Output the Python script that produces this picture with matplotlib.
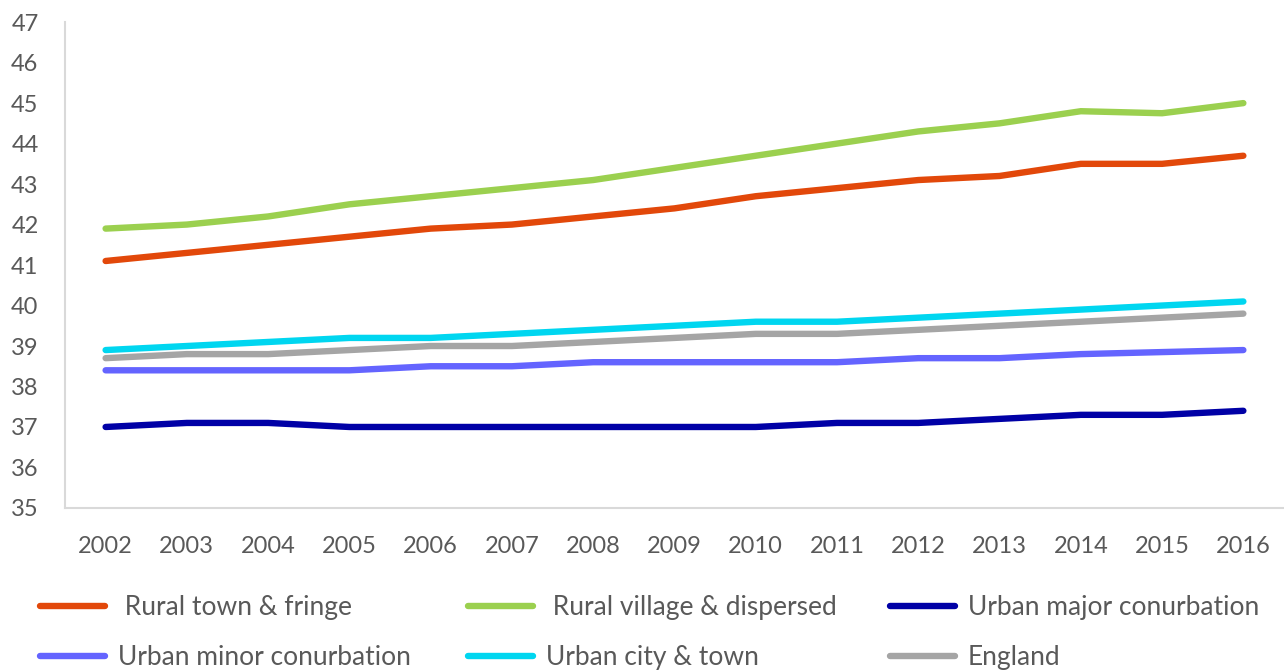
import matplotlib.pyplot as plt
from matplotlib.lines import Line2D

# Data
years = [str(y) for y in range(2002, 2017)]
rural_town = [41.1, 41.3, 41.5, 41.7, 41.9, 42.0, 42.2, 42.4, 42.7, 42.9, 43.1, 43.2, 43.5, 43.5, 43.7]
rural_village = [41.9, 42.0, 42.2, 42.5, 42.7, 42.9, 43.1, 43.4, 43.7, 44.0, 44.3, 44.5, 44.8, 44.75, 45.0]
urban_major = [37.0, 37.1, 37.1, 37.0, 37.0, 37.0, 37.0, 37.0, 37.0, 37.1, 37.1, 37.2, 37.3, 37.3, 37.4]
urban_minor = [38.4, 38.4, 38.4, 38.4, 38.5, 38.5, 38.6, 38.6, 38.6, 38.6, 38.7, 38.7, 38.8, 38.85, 38.9]
urban_city = [38.9, 39.0, 39.1, 39.2, 39.2, 39.3, 39.4, 39.5, 39.6, 39.6, 39.7, 39.8, 39.9, 40.0, 40.1]
england = [38.7, 38.8, 38.8, 38.9, 39.0, 39.0, 39.1, 39.2, 39.3, 39.3, 39.4, 39.5, 39.6, 39.7, 39.8]

series = [
    (' Rural town & fringe', rural_town, '#E2480A'),
    (' Rural village & dispersed', rural_village, '#9BD04F'),
    ('Urban major conurbation', urban_major, '#0000A6'),
    ('Urban minor conurbation', urban_minor, '#6464FF'),
    ('Urban city & town', urban_city, '#00D6F0'),
    ('England', england, '#A5A5A5'),
]

plt.rcParams['font.family'] = ['Lato', 'DejaVu Sans']
text_color = '#595959'

fig = plt.figure(figsize=(12.84, 6.71), dpi=100)
ax = fig.add_axes([0.0506, 0.243, 0.9494, 0.724])

x = range(len(years))
for label, vals, col in series:
    ax.plot(x, vals, color=col, lw=4.6, solid_capstyle='round', solid_joinstyle='round')

ax.set_xlim(-0.5, len(years) - 0.5)
ax.set_ylim(35, 47)
ax.set_yticks(range(35, 48))
ax.set_xticks(list(x))
ax.set_xticklabels(years)
ax.tick_params(axis='y', length=0, pad=19, labelsize=17, labelcolor=text_color)
ax.tick_params(axis='x', length=0, pad=20, labelsize=17, labelcolor=text_color)
for s in ['top', 'right']:
    ax.spines[s].set_visible(False)
for s in ['left', 'bottom']:
    ax.spines[s].set_color('#D9D9D9')
    ax.spines[s].set_linewidth(1.5)

# Legend: three columns of two rows
col_x = [40 / 1284, 468 / 1284, 890 / 1284]
for c in range(3):
    idx = [c, c + 3]
    handles = [Line2D([], [], color=series[i][2], lw=4.6, solid_capstyle='round') for i in idx]
    labels = [series[i][0] for i in idx]
    fig.legend(handles, labels, loc='upper left', bbox_to_anchor=(col_x[c], 0.113),
               frameon=False, fontsize=19, labelcolor=text_color, handlelength=2.45,
               handletextpad=0.5, labelspacing=0.95, borderaxespad=0, borderpad=0)

fig.savefig('out.png', dpi=100)
